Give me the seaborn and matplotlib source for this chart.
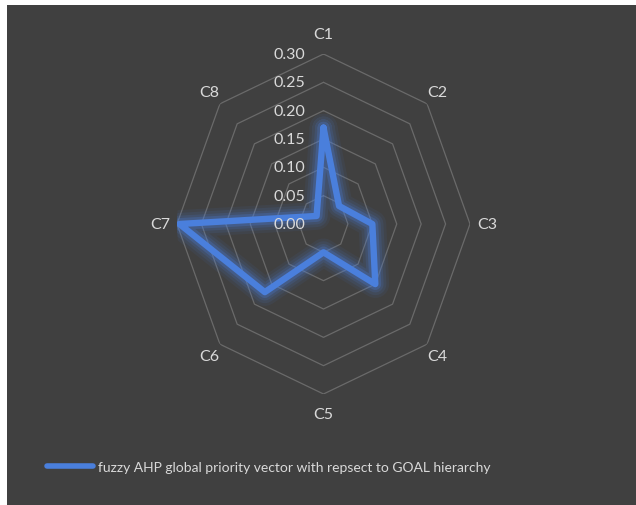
import numpy as np
import pandas as pd
import matplotlib
matplotlib.use("Agg")
import matplotlib.pyplot as plt
import matplotlib.patheffects as pe
import matplotlib.transforms as mtransforms
from matplotlib.lines import Line2D
from matplotlib.patches import Rectangle
import seaborn as sns

categories = ["C1", "C2", "C3", "C4", "C5", "C6", "C7", "C8"]
values = [0.17, 0.045, 0.10, 0.15, 0.05, 0.17, 0.295, 0.02]
ticks = [0.00, 0.05, 0.10, 0.15, 0.20, 0.25, 0.30]
tick_labels = ["0.00", "0.05", "0.10", "0.15", "0.20", "0.25", "0.30"]
series_name = "fuzzy AHP global priority vector with repsect to GOAL hierarchy"

sns.set_theme(style="white")
plt.rcParams["font.family"] = ["Lato", "DejaVu Sans"]

BG = "#404040"
TXT = "#d9d9d9"
GRID = "#6a6a6a"
BLUE = "#4a7fdc"

fig = plt.figure(figsize=(6.36, 5.06), dpi=100)
fig.patch.set_facecolor("white")
fig.add_artist(Rectangle((7 / 636, 0), 1 - 7 / 636, 1 - 6 / 506,
                         transform=fig.transFigure, facecolor=BG,
                         edgecolor="none", zorder=-10))

ax = fig.add_axes([177 / 636, 1 - 395 / 506, 293 / 636, 340 / 506],
                  projection="polar")
ax.set_aspect("auto")
ax.set_facecolor("none")
ax.patch.set_visible(False)
ax.set_theta_offset(np.pi / 2)
ax.set_theta_direction(-1)
ax.set_ylim(0, ticks[-1])
ax.grid(False)
ax.spines["polar"].set_visible(False)
ax.set_xticks([])
ax.set_yticks([])

n = len(categories)
angles = np.arange(n) * 2 * np.pi / n
closed_angles = np.append(angles, angles[0])

# octagonal grid rings
for t in ticks[1:]:
    ax.plot(closed_angles, [t] * (n + 1), color=GRID, lw=0.9, zorder=1)

df = pd.DataFrame({"theta": closed_angles,
                   "value": values + [values[0]]})
sns.lineplot(data=df, x="theta", y="value", sort=False, ax=ax,
             color=BLUE, lw=4.6, zorder=5, legend=False,
             estimator=None)
line = ax.lines[-1]
line.set_solid_joinstyle("round")
line.set_path_effects([
    pe.Stroke(linewidth=20, foreground=BLUE, alpha=0.07),
    pe.Stroke(linewidth=16, foreground=BLUE, alpha=0.10),
    pe.Stroke(linewidth=12, foreground=BLUE, alpha=0.15),
    pe.Stroke(linewidth=8.5, foreground=BLUE, alpha=0.25),
    pe.Normal(),
])
ax.set_xlabel("")
ax.set_ylabel("")

# radial tick labels along C1 axis
off = mtransforms.offset_copy(ax.transData, fig=fig, x=-18, y=0, units="dots")
for t, lab in zip(ticks, tick_labels):
    ax.text(0, t, lab, transform=off, ha="right", va="center",
            color=TXT, fontsize=11.5, zorder=6)

# category labels
for a, c in zip(angles, categories):
    r = 0.335 if c in ("C1", "C3", "C5", "C7") else 0.33
    ax.text(a, r, c, ha="center", va="center", color=TXT, fontsize=11.5,
            clip_on=False)

proxy = Line2D([0], [0], color=BLUE, lw=4)
fig.legend(handles=[proxy], labels=[series_name], loc="center",
           bbox_to_anchor=(269 / 636, 1 - 468 / 506), frameon=False,
           labelcolor=TXT, fontsize=10, handlelength=3.3, handletextpad=0.35)

fig.savefig("out.png", dpi=100, facecolor=fig.get_facecolor())
